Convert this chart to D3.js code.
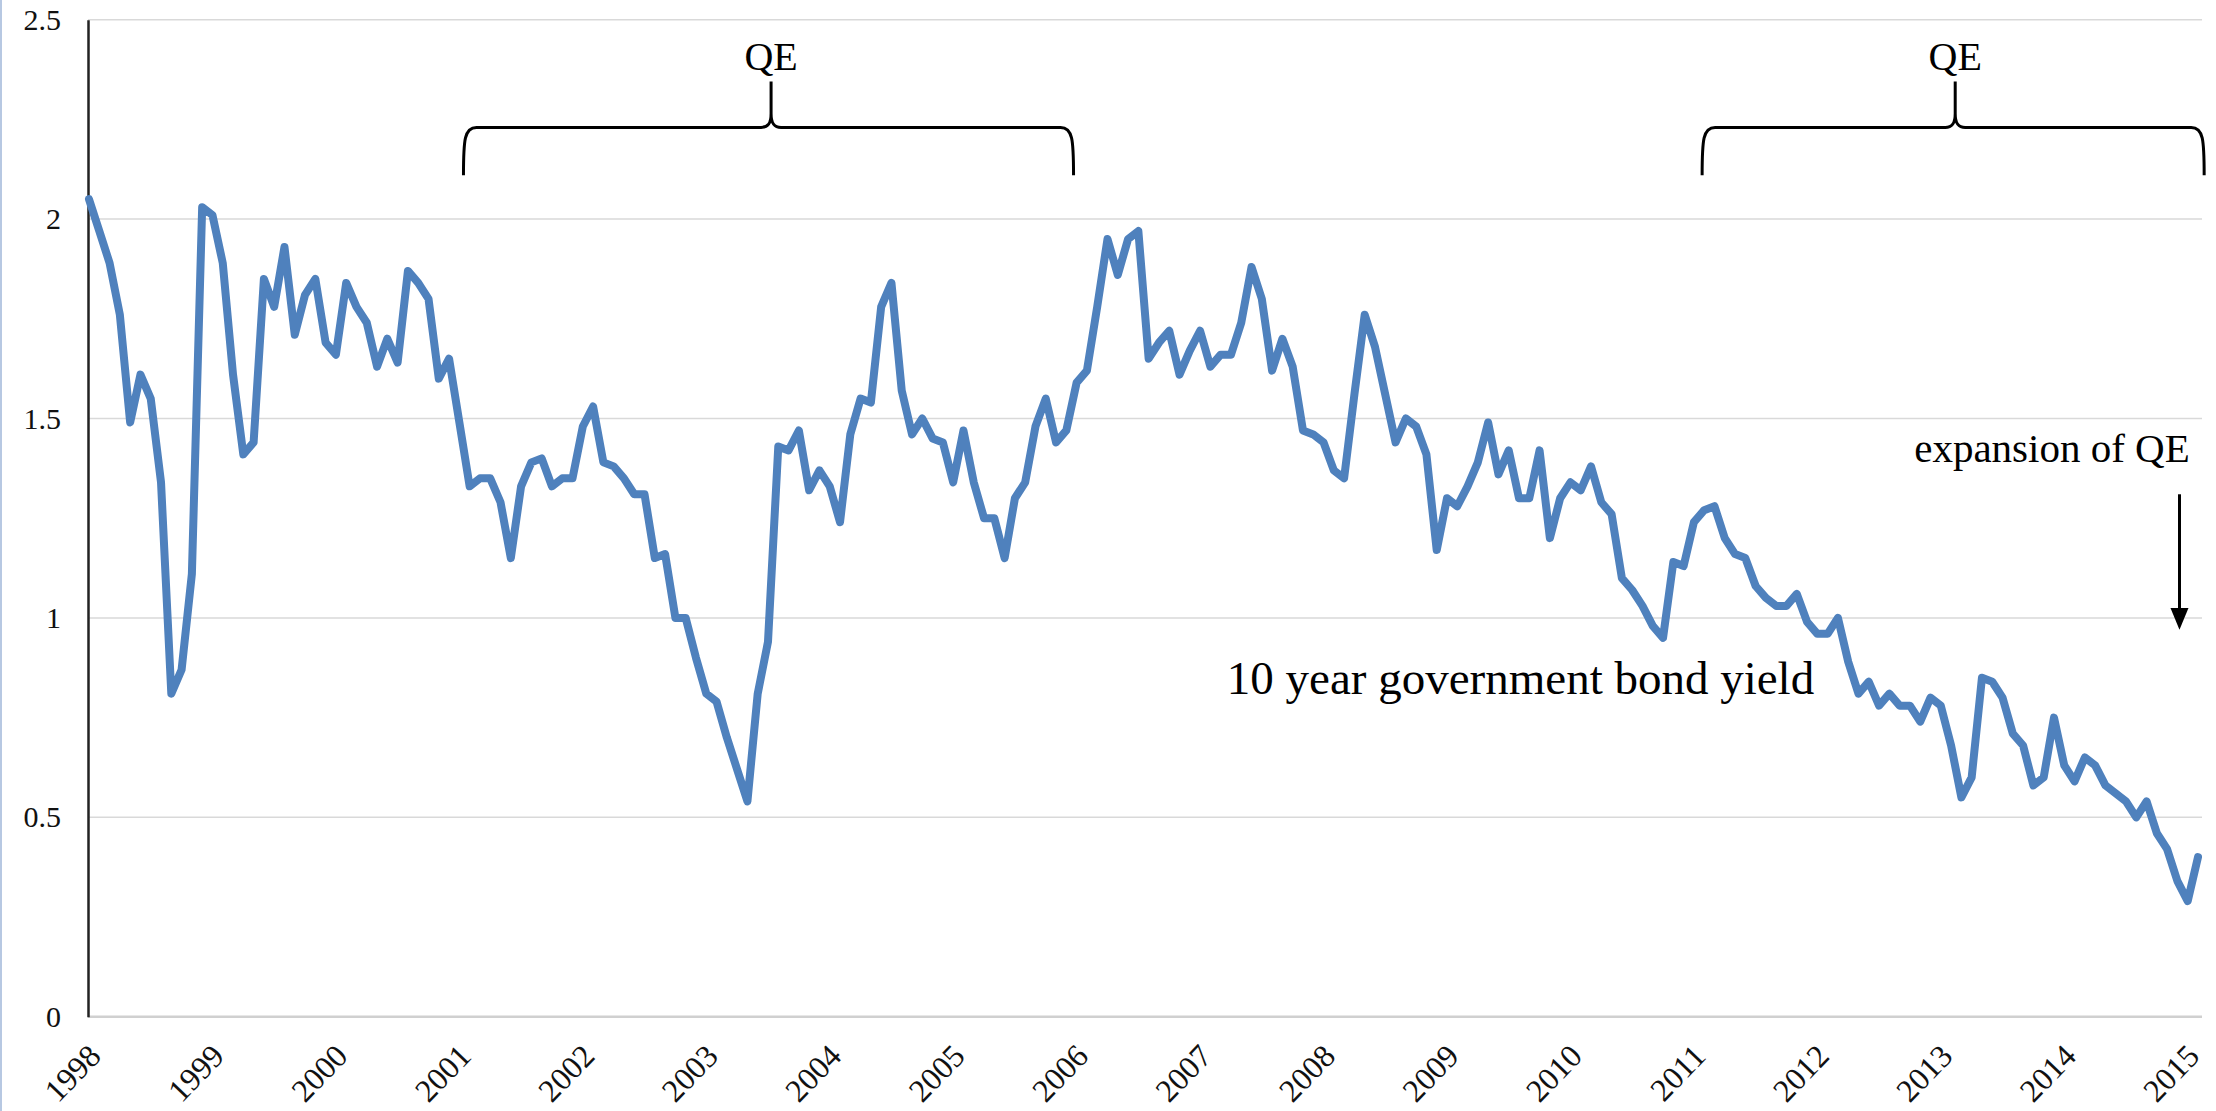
<!DOCTYPE html>
<html>
<head>
<meta charset="utf-8">
<script src="https://cdn.jsdelivr.net/npm/d3@7"></script>
<style>
  html, body { margin: 0; padding: 0; background: #fff; }
  svg { display: block; font-family: "Liberation Serif", "Times New Roman", serif; }
</style>
</head>
<body>
<svg width="2216" height="1111"></svg>
<script>
// Monthly 10 year government bond yield, Jan 1998 .. Feb 2015 (month-end, %)
const yields = [
  2.05, 1.97, 1.89, 1.76, 1.49, 1.61, 1.55, 1.34, 0.81, 0.87,
  1.11, 2.03, 2.01, 1.89, 1.61, 1.41, 1.44, 1.85, 1.78, 1.93,
  1.71, 1.81, 1.85, 1.69, 1.66, 1.84, 1.78, 1.74, 1.63, 1.70,
  1.64, 1.87, 1.84, 1.80, 1.60, 1.65, 1.49, 1.33, 1.35, 1.35,
  1.29, 1.15, 1.33, 1.39, 1.40, 1.33, 1.35, 1.35, 1.48, 1.53,
  1.39, 1.38, 1.35, 1.31, 1.31, 1.15, 1.16, 1.00, 1.00, 0.90,
  0.81, 0.79, 0.70, 0.62, 0.54, 0.81, 0.94, 1.43, 1.42, 1.47,
  1.32, 1.37, 1.33, 1.24, 1.46, 1.55, 1.54, 1.78, 1.84, 1.57,
  1.46, 1.50, 1.45, 1.44, 1.34, 1.47, 1.34, 1.25, 1.25, 1.15,
  1.30, 1.34, 1.48, 1.55, 1.44, 1.47, 1.59, 1.62, 1.78, 1.95,
  1.86, 1.95, 1.97, 1.65, 1.69, 1.72, 1.61, 1.67, 1.72, 1.63,
  1.66, 1.66, 1.74, 1.88, 1.80, 1.62, 1.70, 1.63, 1.47, 1.46,
  1.44, 1.37, 1.35, 1.56, 1.76, 1.68, 1.56, 1.44, 1.50, 1.48,
  1.41, 1.17, 1.30, 1.28, 1.33, 1.39, 1.49, 1.36, 1.42, 1.30,
  1.30, 1.42, 1.20, 1.30, 1.34, 1.32, 1.38, 1.29, 1.26, 1.10,
  1.07, 1.03, 0.98, 0.95, 1.14, 1.13, 1.24, 1.27, 1.28, 1.20,
  1.16, 1.15, 1.08, 1.05, 1.03, 1.03, 1.06, 0.99, 0.96, 0.96,
  1.00, 0.89, 0.81, 0.84, 0.78, 0.81, 0.78, 0.78, 0.74, 0.80,
  0.78, 0.68, 0.55, 0.60, 0.85, 0.84, 0.80, 0.71, 0.68, 0.58,
  0.60, 0.75, 0.63, 0.59, 0.65, 0.63, 0.58, 0.56, 0.54, 0.50,
  0.54, 0.46, 0.42, 0.34, 0.29, 0.40
];

// x labels: one per January
const years = d3.range(1998, 2016);
const yTicks = [0, 0.5, 1, 1.5, 2, 2.5];

// annotations (month index positions)
const qePeriods = [
  { start: 36.4, end: 95.7, mid: 66.3 },
  { start: 156.8, end: 205.6, mid: 181.4 }
];
const qeExpansion = 203.2; // Nov 2014

const svg = d3.select("svg"),
  width = +svg.attr("width"),
  height = +svg.attr("height");

const x = d3.scaleLinear().domain([0, yields.length - 1]).range([89, 2198]);
const y = d3.scaleLinear().domain([0, 2.5]).range([1016.7, 19.7]);

// thin border on the far left
svg.append("line")
  .attr("x1", 1).attr("x2", 1).attr("y1", 0).attr("y2", height)
  .attr("stroke", "#b7c8e2").attr("stroke-width", 2);

// gridlines
svg.append("g")
  .selectAll("line")
  .data(yTicks)
  .join("line")
  .attr("x1", x(0) - 1)
  .attr("x2", 2202)
  .attr("y1", d => y(d))
  .attr("y2", d => y(d))
  .attr("stroke", d => d === 0 ? "#d0d0d0" : "#d9d9d9")
  .attr("stroke-width", d => d === 0 ? 2.5 : 1.5);

// y axis
const yAxis = svg.append("g")
  .attr("transform", `translate(${x(0) - 1},0)`)
  .call(d3.axisLeft(y).tickValues(yTicks).tickSize(0).tickPadding(27).tickFormat(d3.format("")));
yAxis.select(".domain").attr("stroke", "#222").attr("stroke-width", 2.5);
yAxis.selectAll("text")
  .attr("font-size", 30)
  .attr("font-family", "Liberation Serif, Times New Roman, serif")
  .attr("fill", "#111");

// x axis labels, rotated
const xAxis = svg.append("g")
  .attr("transform", `translate(0,${y(0)})`)
  .call(d3.axisBottom(x).tickValues(years.map((yr, i) => i * 12)).tickSize(0)
    .tickFormat((d, i) => years[i]));
xAxis.select(".domain").remove();
xAxis.selectAll("text")
  .attr("font-size", 32)
  .attr("font-family", "Liberation Serif, Times New Roman, serif")
  .attr("fill", "#111")
  .attr("text-anchor", "end")
  .attr("dy", 0)
  .attr("y", 0)
  .attr("transform", "translate(13,41) rotate(-46)");

// the yield line
svg.append("path")
  .datum(yields)
  .attr("fill", "none")
  .attr("stroke", "#4f81bd")
  .attr("stroke-width", 8)
  .attr("stroke-linejoin", "round")
  .attr("stroke-linecap", "round")
  .attr("d", d3.line().x((d, i) => x(i)).y(d => y(d)));

// curly braces for QE periods
function brace(x0, x1, xm, yBar, yEnd, yTip) {
  const r = 13;
  return `M${x0},${yEnd} C${x0},${yBar + 12} ${x0 + 1},${yBar} ${x0 + r},${yBar}` +
    ` L${xm - 10},${yBar} C${xm - 3},${yBar} ${xm},${yBar - 4} ${xm},${yBar - 14} L${xm},${yTip}` +
    ` M${xm},${yBar - 14} C${xm},${yBar - 4} ${xm + 3},${yBar} ${xm + 10},${yBar}` +
    ` L${x1 - r},${yBar} C${x1 - 1},${yBar} ${x1},${yBar + 12} ${x1},${yEnd}`;
}

const qe = svg.append("g");
qe.selectAll("path")
  .data(qePeriods)
  .join("path")
  .attr("fill", "none")
  .attr("stroke", "#000")
  .attr("stroke-width", 3)
  .attr("d", d => brace(x(d.start), x(d.end), x(d.mid), y(2.23), y(2.11), y(2.345)));
qe.selectAll("text")
  .data(qePeriods)
  .join("text")
  .attr("x", d => x(d.mid))
  .attr("y", y(2.375))
  .attr("text-anchor", "middle")
  .attr("font-size", 40)
  .text("QE");

// labels
svg.append("text")
  .attr("x", x(110.6))
  .attr("y", y(0.81))
  .attr("font-size", 47)
  .text("10 year government bond yield");

svg.append("text")
  .attr("x", x(204.2))
  .attr("y", y(1.39))
  .attr("text-anchor", "end")
  .attr("font-size", 41)
  .text("expansion of QE");

// arrow
svg.append("line")
  .attr("x1", x(qeExpansion)).attr("x2", x(qeExpansion))
  .attr("y1", y(1.31)).attr("y2", y(1.0))
  .attr("stroke", "#000").attr("stroke-width", 3);
svg.append("path")
  .attr("d", d3.line()([
    [x(qeExpansion) - 9, y(1.025)],
    [x(qeExpansion) + 9, y(1.025)],
    [x(qeExpansion), y(0.97)]
  ]) + "Z")
  .attr("fill", "#000");
</script>
</body>
</html>
